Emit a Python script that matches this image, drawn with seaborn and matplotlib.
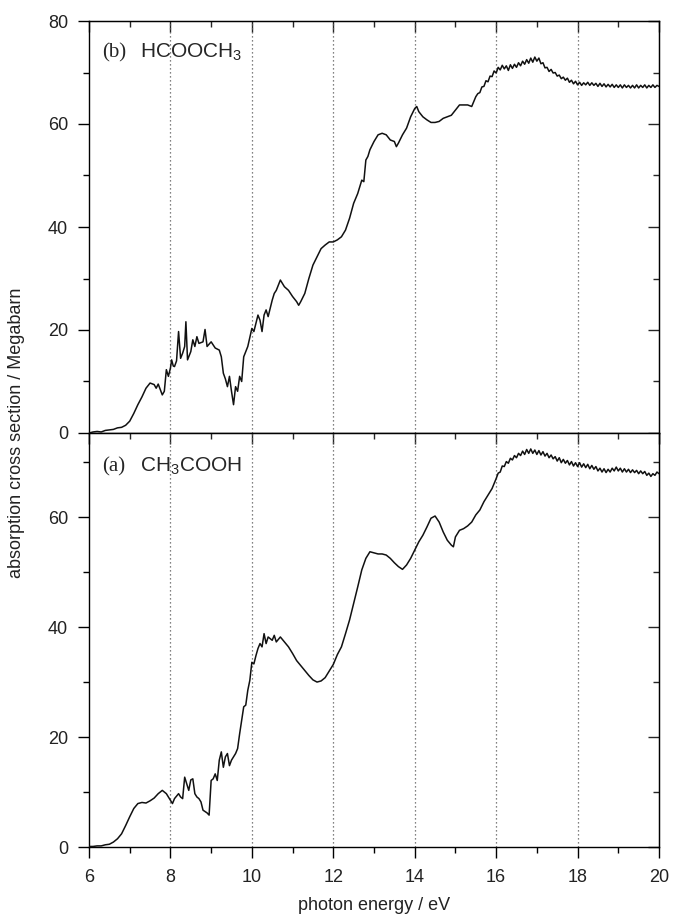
import numpy as np
import pandas as pd
import matplotlib
matplotlib.use("Agg")
import matplotlib.pyplot as plt
from matplotlib.ticker import MultipleLocator
import seaborn as sns

# ---------------- data ----------------
# (b) HCOOCH3
energy_b = [6.0, 6.1, 6.2, 6.3, 6.4, 6.5, 6.6, 6.7, 6.8, 6.9, 7.0, 7.1, 7.2, 7.3, 7.4, 7.5,
            7.6, 7.65, 7.7, 7.8, 7.85, 7.9, 7.95, 8.0, 8.03, 8.07, 8.1, 8.15, 8.2, 8.25, 8.3,
            8.35, 8.38, 8.42, 8.5, 8.55, 8.6, 8.65, 8.7, 8.8, 8.85, 8.9, 9.0, 9.1, 9.2, 9.25,
            9.3, 9.35, 9.4, 9.45, 9.5, 9.55, 9.6, 9.65, 9.7, 9.75, 9.8, 9.9, 10.0, 10.05, 10.1,
            10.15, 10.2, 10.25, 10.3, 10.35, 10.4, 10.5, 10.55, 10.6, 10.7, 10.8, 10.9, 11.0,
            11.1, 11.15, 11.2, 11.3, 11.4, 11.5, 11.6, 11.7, 11.8, 11.9, 12.0, 12.1, 12.2, 12.3,
            12.4, 12.5, 12.6, 12.7, 12.75, 12.8, 12.85, 12.9, 13.0, 13.1, 13.2, 13.3, 13.4, 13.5,
            13.55, 13.6, 13.7, 13.8, 13.9, 14.0, 14.05, 14.1, 14.2, 14.3, 14.4, 14.5, 14.6, 14.7,
            14.8, 14.9, 15.0, 15.1, 15.2, 15.3, 15.4,
            15.50, 15.55, 15.60, 15.65, 15.70, 15.75, 15.80, 15.85, 15.90, 15.95,
            16.00, 16.05, 16.10, 16.15, 16.20, 16.25, 16.30, 16.35, 16.40, 16.45,
            16.50, 16.55, 16.60, 16.65, 16.70, 16.75, 16.80, 16.85, 16.90, 16.95,
            17.00, 17.05, 17.10, 17.15, 17.20, 17.25, 17.30, 17.35, 17.40, 17.45,
            17.50, 17.55, 17.60, 17.65, 17.70, 17.75, 17.80, 17.85, 17.90, 17.95,
            18.00, 18.05, 18.10, 18.15, 18.20, 18.25, 18.30, 18.35, 18.40, 18.45,
            18.50, 18.55, 18.60, 18.65, 18.70, 18.75, 18.80, 18.85, 18.90, 18.95,
            19.00, 19.05, 19.10, 19.15, 19.20, 19.25, 19.30, 19.35, 19.40, 19.45,
            19.50, 19.55, 19.60, 19.65, 19.70, 19.75, 19.80, 19.85, 19.90, 19.95, 20.00]
sigma_b = [0.0, 0.2, 0.3, 0.2, 0.5, 0.6, 0.7, 1.0, 1.1, 1.5, 2.3, 3.8, 5.5, 7.0, 8.7, 9.7,
           9.4, 8.7, 9.5, 7.4, 8.1, 12.3, 11.0, 12.6, 14.2, 13.0, 12.9, 14.0, 19.7, 14.5, 15.5,
           16.8, 21.6, 14.2, 15.8, 18.1, 16.8, 18.7, 17.4, 17.7, 20.1, 16.8, 17.7, 16.5, 16.1, 14.8,
           11.6, 10.5, 9.0, 11.0, 8.1, 5.5, 9.0, 8.1, 11.0, 10.0, 14.8, 16.8, 20.3, 19.7, 21.3,
           22.9, 21.9, 19.7, 22.9, 23.9, 22.6, 25.8, 27.1, 27.7, 29.7, 28.4, 27.7, 26.5,
           25.5, 24.8, 25.5, 27.1, 30.0, 32.6, 34.2, 35.8, 36.5, 37.1, 37.1, 37.5, 38.1, 39.4,
           41.7, 44.6, 46.5, 49.1, 48.8, 53.0, 53.7, 55.0, 56.6, 57.9, 58.2, 57.9, 56.9, 56.6,
           55.6, 56.3, 57.9, 59.2, 61.4, 63.0, 63.4, 62.4, 61.4, 60.8, 60.3, 60.3, 60.5, 61.1,
           61.4, 61.7, 62.7, 63.7, 63.7, 63.7, 63.4,
           65.3, 65.9, 66.1, 67.2, 67.3, 68.4, 68.2, 69.3, 69.2, 70.3,
           69.9, 71.0, 70.5, 71.4, 70.7, 71.3, 70.4, 71.5, 70.8, 71.6,
           71.0, 71.9, 71.3, 72.2, 71.6, 72.5, 71.8, 72.8, 72.0, 73.0,
           72.2, 72.8, 71.7, 71.9, 70.9, 71.0, 70.2, 70.6, 69.9, 70.0,
           69.3, 69.5, 68.8, 69.1, 68.5, 68.9, 68.1, 68.5, 67.8, 68.3,
           67.6, 68.1, 67.5, 68.0, 67.6, 68.1, 67.5, 68.0, 67.5, 67.9,
           67.3, 67.9, 67.3, 67.8, 67.2, 67.7, 67.2, 67.7, 67.1, 67.6,
           67.1, 67.6, 67.0, 67.6, 67.1, 67.5, 67.0, 67.5, 67.0, 67.6,
           67.0, 67.5, 67.1, 67.6, 67.0, 67.5, 67.1, 67.6, 67.1, 67.5, 67.3]

# (a) CH3COOH
energy_a = [6.0, 6.1, 6.2, 6.3, 6.4, 6.5, 6.6, 6.7, 6.8, 6.9, 7.0, 7.1, 7.2, 7.3, 7.4, 7.5,
            7.6, 7.7, 7.8, 7.9, 8.0, 8.05, 8.1, 8.2, 8.25, 8.3, 8.35, 8.4, 8.45, 8.5, 8.55, 8.6,
            8.65, 8.7, 8.75, 8.8, 8.9, 8.95, 9.0, 9.05, 9.1, 9.15, 9.2, 9.25, 9.3, 9.35, 9.4,
            9.45, 9.5, 9.6, 9.65, 9.7, 9.8, 9.85, 9.9, 9.95, 10.0, 10.05, 10.1, 10.15, 10.2,
            10.25, 10.3, 10.35, 10.4, 10.5, 10.55, 10.6, 10.7, 10.8, 10.9, 11.0, 11.1, 11.2,
            11.3, 11.4, 11.5, 11.6, 11.7, 11.8, 11.9, 12.0, 12.1, 12.2, 12.3, 12.4, 12.5, 12.6,
            12.7, 12.8, 12.9, 13.0, 13.1, 13.2, 13.3, 13.4, 13.5, 13.6, 13.7, 13.8, 13.9, 14.0,
            14.1, 14.2, 14.3, 14.4, 14.5, 14.6, 14.7, 14.8, 14.9, 14.95, 15.0, 15.1, 15.2, 15.3,
            15.4, 15.5, 15.6, 15.7, 15.8, 15.9,
            16.00, 16.05, 16.10, 16.15, 16.20, 16.25, 16.30, 16.35, 16.40, 16.45,
            16.50, 16.55, 16.60, 16.65, 16.70, 16.75, 16.80, 16.85, 16.90, 16.95,
            17.00, 17.05, 17.10, 17.15, 17.20, 17.25, 17.30, 17.35, 17.40, 17.45,
            17.50, 17.55, 17.60, 17.65, 17.70, 17.75, 17.80, 17.85, 17.90, 17.95,
            18.00, 18.05, 18.10, 18.15, 18.20, 18.25, 18.30, 18.35, 18.40, 18.45,
            18.50, 18.55, 18.60, 18.65, 18.70, 18.75, 18.80, 18.85, 18.90, 18.95,
            19.00, 19.05, 19.10, 19.15, 19.20, 19.25, 19.30, 19.35, 19.40, 19.45,
            19.50, 19.55, 19.60, 19.65, 19.70, 19.75, 19.80, 19.85, 19.90, 19.95, 20.00]
sigma_a = [0.1, 0.1, 0.2, 0.2, 0.4, 0.5, 0.9, 1.5, 2.4, 3.9, 5.5, 7.0, 7.9, 8.1, 8.0, 8.4,
           8.9, 9.7, 10.3, 9.7, 8.5, 7.9, 8.8, 9.7, 9.1, 8.8, 12.7, 11.5, 10.3, 12.2, 12.4, 9.7,
           9.1, 8.8, 8.2, 6.7, 6.2, 5.8, 12.1, 12.4, 13.3, 12.1, 15.8, 17.3, 14.5, 16.4, 17.0,
           14.8, 15.8, 17.0, 17.9, 20.6, 25.5, 25.8, 28.5, 30.3, 33.6, 33.3, 34.8, 36.1, 37.0,
           36.4, 38.8, 37.0, 38.2, 37.6, 38.5, 37.3, 38.2, 37.3, 36.4, 35.2, 33.9, 33.0,
           32.1, 31.2, 30.4, 30.0, 30.2, 30.8, 32.0, 33.2, 35.0, 36.4, 38.8, 41.3, 44.3, 47.3,
           50.4, 52.5, 53.7, 53.5, 53.3, 53.3, 53.1, 52.5, 51.7, 51.0, 50.5, 51.3, 52.5, 54.0,
           55.5, 56.7, 58.2, 59.8, 60.2, 59.1, 57.3, 55.8, 54.9, 54.6, 56.4, 57.6, 57.9, 58.4,
           59.1, 60.4, 61.3, 62.8, 64.0, 65.2,
           67.0, 68.0, 68.2, 69.3, 69.2, 70.1, 69.8, 70.7, 70.4, 71.2,
           70.8, 71.6, 71.2, 72.0, 71.4, 72.3, 71.6, 72.4, 71.6, 72.2,
           71.4, 72.1, 71.3, 71.9, 71.1, 71.6, 70.8, 71.3, 70.6, 71.0,
           70.2, 70.8, 69.9, 70.5, 69.8, 70.3, 69.5, 70.1, 69.3, 69.9,
           69.2, 69.9, 69.1, 69.7, 69.0, 69.6, 68.8, 69.4, 68.7, 69.2,
           68.4, 68.9, 68.2, 68.8, 68.1, 68.7, 68.2, 68.9, 68.4, 69.1,
           68.4, 68.9, 68.2, 68.8, 68.2, 68.7, 68.1, 68.6, 68.1, 68.5,
           67.9, 68.4, 67.9, 68.3, 67.6, 68.0, 67.4, 67.9, 67.6, 68.2, 67.9]

grid_energies = [8, 10, 12, 14, 16, 18]
x_ticks = [6, 8, 10, 12, 14, 16, 18, 20]
y_ticks_b = [0, 20, 40, 60, 80]
y_ticks_a = [0, 20, 40, 60]

df_b = pd.DataFrame({"energy": energy_b, "sigma": sigma_b})
df_a = pd.DataFrame({"energy": energy_a, "sigma": sigma_a})

# ---------------- style ----------------
sns.set_style("ticks")
plt.rcParams["font.family"] = ["Liberation Sans", "DejaVu Sans"]
plt.rcParams["mathtext.default"] = "regular"

W, H = 673, 916
fig = plt.figure(figsize=(W / 100, H / 100), dpi=100)
left, right = 89 / W, 659 / W
top_b, mid, bot_a = 1 - 21 / H, 1 - 433 / H, 1 - 847 / H
ax_b = fig.add_axes([left, mid, right - left, top_b - mid])
ax_a = fig.add_axes([left, bot_a, right - left, mid - bot_a])

for ax, df, ylim, yt in [(ax_b, df_b, (0, 80), y_ticks_b), (ax_a, df_a, (0, 75.3), y_ticks_a)]:
    for g in grid_energies:
        ax.axvline(g, color="0.35", lw=0.9, ls=(0, (1, 2.2)), zorder=1)
    sns.lineplot(data=df, x="energy", y="sigma", ax=ax, color="#111111", lw=1.1,
                 estimator=None, sort=False, zorder=3)
    ax.set_xlim(6, 20)
    ax.set_ylim(*ylim)
    ax.set_xlabel("")
    ax.set_ylabel("")
    ax.set_xticks(x_ticks)
    ax.xaxis.set_minor_locator(MultipleLocator(1))
    ax.set_yticks(yt)
    ax.yaxis.set_minor_locator(MultipleLocator(10))
    for s in ax.spines.values():
        s.set_visible(True)
        s.set_linewidth(1.0)
        s.set_color("black")
    ax.tick_params(which="major", direction="out", length=8, width=1.0, labelsize=13,
                   color="black", labelcolor="#222222")
    ax.tick_params(which="minor", direction="out", length=4, width=1.0, color="black")
    ax.tick_params(axis="x", which="major", pad=8)
    ax.tick_params(axis="y", which="major", pad=7)
    # inward ticks on the right and top
    sy = ax.secondary_yaxis("right")
    sy.set_yticks(yt)
    sy.yaxis.set_minor_locator(MultipleLocator(10))
    sy.tick_params(which="major", direction="in", length=8, width=1.0, labelright=False)
    sy.tick_params(which="minor", direction="in", length=4, width=1.0)
    sx = ax.secondary_xaxis("top")
    sx.set_xticks(x_ticks)
    sx.xaxis.set_minor_locator(MultipleLocator(1))
    sx.tick_params(which="major", direction="in", length=8, width=1.0, labeltop=False)
    sx.tick_params(which="minor", direction="in", length=4, width=1.0)

ax_b.tick_params(axis="x", which="both", labelbottom=False)

# panel labels
ax_b.text(0.0228, 0.912, "(b)", transform=ax_b.transAxes, fontsize=15,
          family=["Liberation Serif", "DejaVu Serif"], va="baseline", ha="left")
ax_b.text(0.0895, 0.912, r"$\mathregular{HCOOCH_3}$", transform=ax_b.transAxes,
          fontsize=15, va="baseline", ha="left")
ax_a.text(0.0228, 0.9065, "(a)", transform=ax_a.transAxes, fontsize=15,
          family=["Liberation Serif", "DejaVu Serif"], va="baseline", ha="left")
ax_a.text(0.0895, 0.9065, r"$\mathregular{CH_3COOH}$", transform=ax_a.transAxes,
          fontsize=15, va="baseline", ha="left")

fig.text(17 / W, 1 - 433 / H, "absorption cross section / Megabarn", rotation=90,
         ha="center", va="center", fontsize=13, color="#222222")
fig.text((left + right) / 2, 1 - 905 / H, "photon energy / eV", ha="center",
         va="center", fontsize=13, color="#222222")

fig.savefig("out.png", dpi=100)
